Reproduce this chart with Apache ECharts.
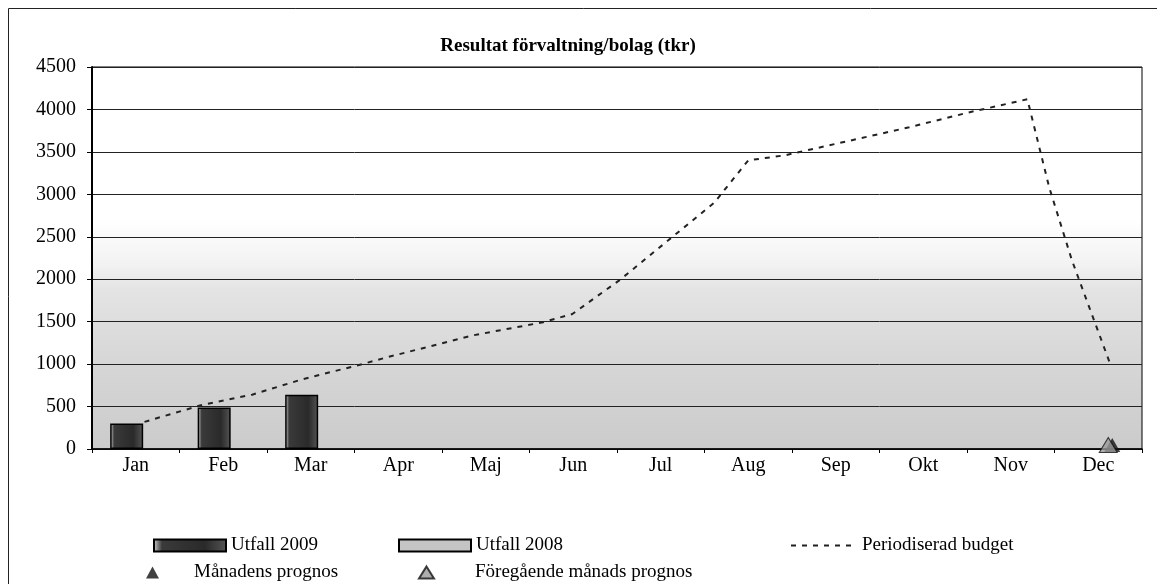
<!DOCTYPE html>
<html lang="sv">
<head>
    <meta charset="UTF-8">
    <title>Resultat förvaltning/bolag</title>
    <style>
        body { margin: 0; background: #fff; }
    </style>
</head>
<body>
<div id="main" style="width: 1157px;height:584px;"></div>

<script src="https://cdn.jsdelivr.net/npm/echarts@6/dist/echarts.min.js"></script>
<script>
    // kategorier och tick-värden
    var months = ['Jan', 'Feb', 'Mar', 'Apr', 'Maj', 'Jun', 'Jul', 'Aug', 'Sep', 'Okt', 'Nov', 'Dec'];
    var yTicks = [0, 500, 1000, 1500, 2000, 2500, 3000, 3500, 4000, 4500];

    // utfall per månad (tkr)
    var utfall2009 = [300, 490, 640, null, null, null, null, null, null, null, null, null];
    var utfall2008 = [null, null, null, null, null, null, null, null, null, null, null, null];

    // periodiserad budget, x i månader från årets början
    var budgetX = [0.6, 1.26, 1.83, 2.4, 3.09, 3.37, 4.36, 5.14, 5.49, 6.03, 7.11, 7.5, 7.92, 9.34, 10.02, 10.69, 10.94, 11.2, 11.63];
    var budgetY = [320, 520, 640, 820, 1000, 1080, 1340, 1490, 1590, 1990, 2900, 3400, 3460, 3790, 3965, 4120, 3080, 2220, 1020];

    // prognoser (bara december)
    var manadensPrognos = [null, null, null, null, null, null, null, null, null, null, null, 0];
    var foregaendePrognos = [null, null, null, null, null, null, null, null, null, null, null, 0];

    var budgetData = [];
    for (var i = 0; i < budgetX.length; i++) {
        budgetData.push([budgetX[i], budgetY[i]]);
    }

    var serif = '"Liberation Serif", "DejaVu Serif", serif';
    var legendText = { fontFamily: serif, fontSize: 19, color: '#000' };

    var chart = echarts.init(document.getElementById('main'));
    chart.setOption({
        backgroundColor: '#fff',
        animation: false,
        title: {
            text: 'Resultat förvaltning/bolag (tkr)',
            left: 563,
            textAlign: 'center',
            top: 32,
            textStyle: {
                fontFamily: serif,
                fontSize: 19,
                fontWeight: 'bold',
                color: '#000'
            }
        },
        graphic: [{
            type: 'rect',
            shape: { x: 8.5, y: 8.5, width: 1170, height: 600 },
            style: { fill: 'none', stroke: '#222', lineWidth: 1 },
            silent: true
        }],
        grid: {
            left: 92,
            right: 15,
            top: 67,
            bottom: 135,
            show: true,
            borderColor: '#000',
            borderWidth: 1,
            backgroundColor: {
                type: 'linear', x: 0, y: 0, x2: 0, y2: 1,
                colorStops: [
                    { offset: 0, color: '#ffffff' },
                    { offset: 0.4, color: '#ffffff' },
                    { offset: 0.52, color: '#f2f2f2' },
                    { offset: 0.58, color: '#e4e4e4' },
                    { offset: 0.78, color: '#d6d6d6' },
                    { offset: 1, color: '#cbcbcb' }
                ]
            }
        },
        legend: [
            {
                data: ['Utfall 2009'],
                left: 148, top: 531,
                itemWidth: 72, itemHeight: 12, icon: 'rect',
                textStyle: legendText
            },
            {
                data: ['Utfall 2008'],
                left: 393, top: 531,
                itemWidth: 72, itemHeight: 12, icon: 'rect',
                textStyle: legendText
            },
            {
                data: ['Periodiserad budget'],
                left: 785, top: 531,
                itemWidth: 66, itemHeight: 12,
                itemStyle: { opacity: 0 },
                textStyle: legendText
            },
            {
                data: ['Månadens prognos'],
                left: 141, top: 558,
                itemWidth: 13, itemHeight: 12, icon: 'triangle',
                textStyle: { fontFamily: serif, fontSize: 19, color: '#000', padding: [0, 0, 0, 30] }
            },
            {
                data: ['Föregående månads prognos'],
                left: 413, top: 558,
                itemWidth: 15, itemHeight: 12, icon: 'triangle',
                textStyle: { fontFamily: serif, fontSize: 19, color: '#000', padding: [0, 0, 0, 36] }
            }
        ],
        xAxis: [
            {
                type: 'category',
                data: months,
                boundaryGap: true,
                axisLine: { lineStyle: { color: '#000', width: 1.5 } },
                axisTick: { show: true, length: 4, lineStyle: { color: '#000' } },
                axisLabel: {
                    fontFamily: serif,
                    fontSize: 20,
                    color: '#000',
                    margin: 7
                },
                splitLine: { show: false }
            },
            {
                type: 'value',
                min: 0,
                max: 12,
                show: false
            }
        ],
        yAxis: {
            type: 'value',
            min: 0,
            max: 4500,
            interval: 500,
            axisLine: { show: true, lineStyle: { color: '#000', width: 2 } },
            axisTick: { show: true, length: 5, lineStyle: { color: '#000' } },
            axisLabel: {
                fontFamily: serif,
                fontSize: 20,
                color: '#000',
                margin: 16,
                formatter: function (v) {
                    return yTicks.indexOf(v) >= 0 ? String(v) : '';
                }
            },
            splitLine: { show: true, lineStyle: { color: '#222', width: 1 } }
        },
        series: [
            {
                name: 'Utfall 2009',
                type: 'bar',
                xAxisIndex: 0,
                barWidth: 33,
                barGap: '-45%',
                itemStyle: {
                    color: {
                        type: 'linear', x: 0, y: 0, x2: 1, y2: 0,
                        colorStops: [
                            { offset: 0, color: '#d8d8d8' },
                            { offset: 0.12, color: '#3a3a3a' },
                            { offset: 0.7, color: '#2a2a2a' },
                            { offset: 1, color: '#555' }
                        ]
                    },
                    borderColor: '#000',
                    borderWidth: 1.5
                },
                data: utfall2009
            },
            {
                name: 'Utfall 2008',
                type: 'bar',
                xAxisIndex: 0,
                barWidth: 33,
                itemStyle: {
                    color: '#c4c4c4',
                    borderColor: '#000',
                    borderWidth: 1.5
                },
                data: utfall2008
            },
            {
                name: 'Periodiserad budget',
                type: 'line',
                xAxisIndex: 1,
                symbol: 'none',
                z: 5,
                lineStyle: {
                    color: '#222',
                    width: 2,
                    type: [5, 6]
                },
                itemStyle: { color: '#222' },
                data: budgetData
            },
            {
                name: 'Månadens prognos',
                type: 'scatter',
                xAxisIndex: 0,
                symbol: 'triangle',
                symbolSize: [16, 14],
                symbolOffset: [14, -4],
                z: 6,
                itemStyle: { color: '#111' },
                data: manadensPrognos
            },
            {
                name: 'Föregående månads prognos',
                type: 'scatter',
                xAxisIndex: 0,
                symbol: 'triangle',
                symbolSize: [18, 15],
                symbolOffset: [10, -4],
                z: 6,
                itemStyle: { color: '#9a9a9a', borderColor: '#111', borderWidth: 1 },
                data: foregaendePrognos
            }
        ]
    });
</script>
</body>
</html>
